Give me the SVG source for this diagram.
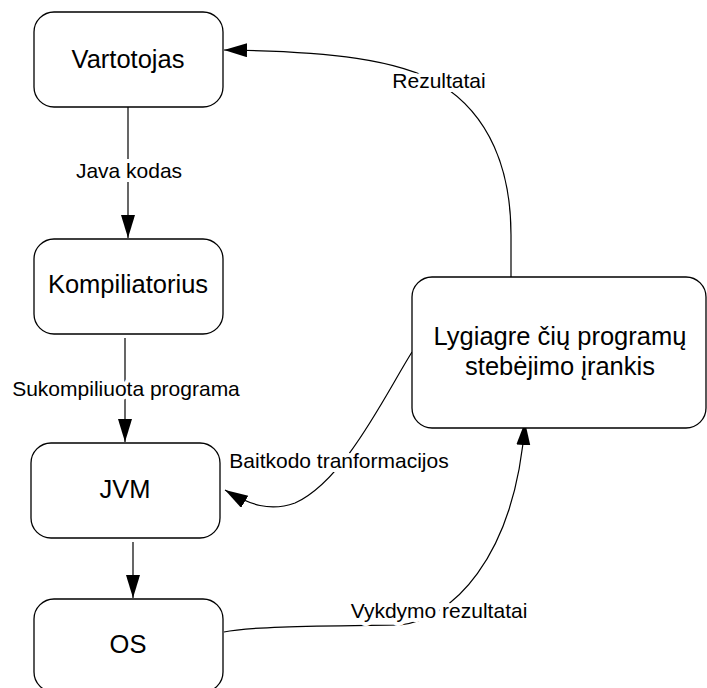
<svg xmlns="http://www.w3.org/2000/svg" width="707" height="688" viewBox="0 0 707 688">
<style>
.box{fill:#fff;stroke:#000;stroke-width:1.3}
.nt{font-family:"Liberation Sans",Arial,sans-serif;font-size:25.5px;fill:#000;text-anchor:middle}
.lt{font-family:"Liberation Sans",Arial,sans-serif;font-size:21px;fill:#000;text-anchor:middle;stroke:#fff;stroke-width:8;paint-order:stroke;stroke-linejoin:round}
.c{fill:none;stroke:#000;stroke-width:1.2}
</style>
<defs>
<marker id="ah" markerUnits="userSpaceOnUse" markerWidth="24" markerHeight="16" refX="23" refY="7" orient="auto">
<path d="M0,0 L23,7 L0,14 z" fill="#000"/>
</marker>
</defs>
<rect width="707" height="688" fill="#fff"/>
<g id="connectors">
<path class="c" d="M128,107 L128,238" marker-end="url(#ah)"/>
<path class="c" d="M125,338 L125,442" marker-end="url(#ah)"/>
<path class="c" d="M133,542 L133,598" marker-end="url(#ah)"/>
<path class="c" d="M511,277 L511,235 C511,170 490,115 440,84 C400,60 330,51 224,50" marker-end="url(#ah)"/>
<path class="c" d="M412,352 C385,395 345,480 295,503 C270,512 250,505 225,490" marker-end="url(#ah)"/>
<path class="c" d="M224,632 C250,626 330,626 400,625 C450,620 515,560 525,422" marker-end="url(#ah)"/>
<text class="lt" x="129" y="178">Java kodas</text>
<text class="lt" x="126" y="396">Sukompiliuota programa</text>
<text class="lt" x="439" y="88">Rezultatai</text>
<text class="lt" x="339" y="468">Baitkodo tranformacijos</text>
<text class="lt" x="439" y="618">Vykdymo rezultatai</text>
</g>
<g id="vartotojas">
<rect class="box" x="34" y="12" width="189" height="95" rx="20"/>
<text class="nt" x="128" y="68">Vartotojas</text>
</g>
<g id="kompiliatorius">
<rect class="box" x="34" y="239" width="189" height="95" rx="20"/>
<text class="nt" x="128" y="293">Kompiliatorius</text>
</g>
<g id="jvm">
<rect class="box" x="31" y="443" width="189" height="95" rx="20"/>
<text class="nt" x="125" y="498">JVM</text>
</g>
<g id="os">
<rect class="box" x="34" y="599" width="189" height="93" rx="20"/>
<text class="nt" x="128" y="653">OS</text>
</g>
<g id="irankis">
<rect class="box" x="412" y="277" width="294" height="151" rx="20"/>
<text class="nt" x="560" y="345">Lygiagre čių programų</text>
<text class="nt" x="560" y="375">stebėjimo įrankis</text>
</g>
</svg>
